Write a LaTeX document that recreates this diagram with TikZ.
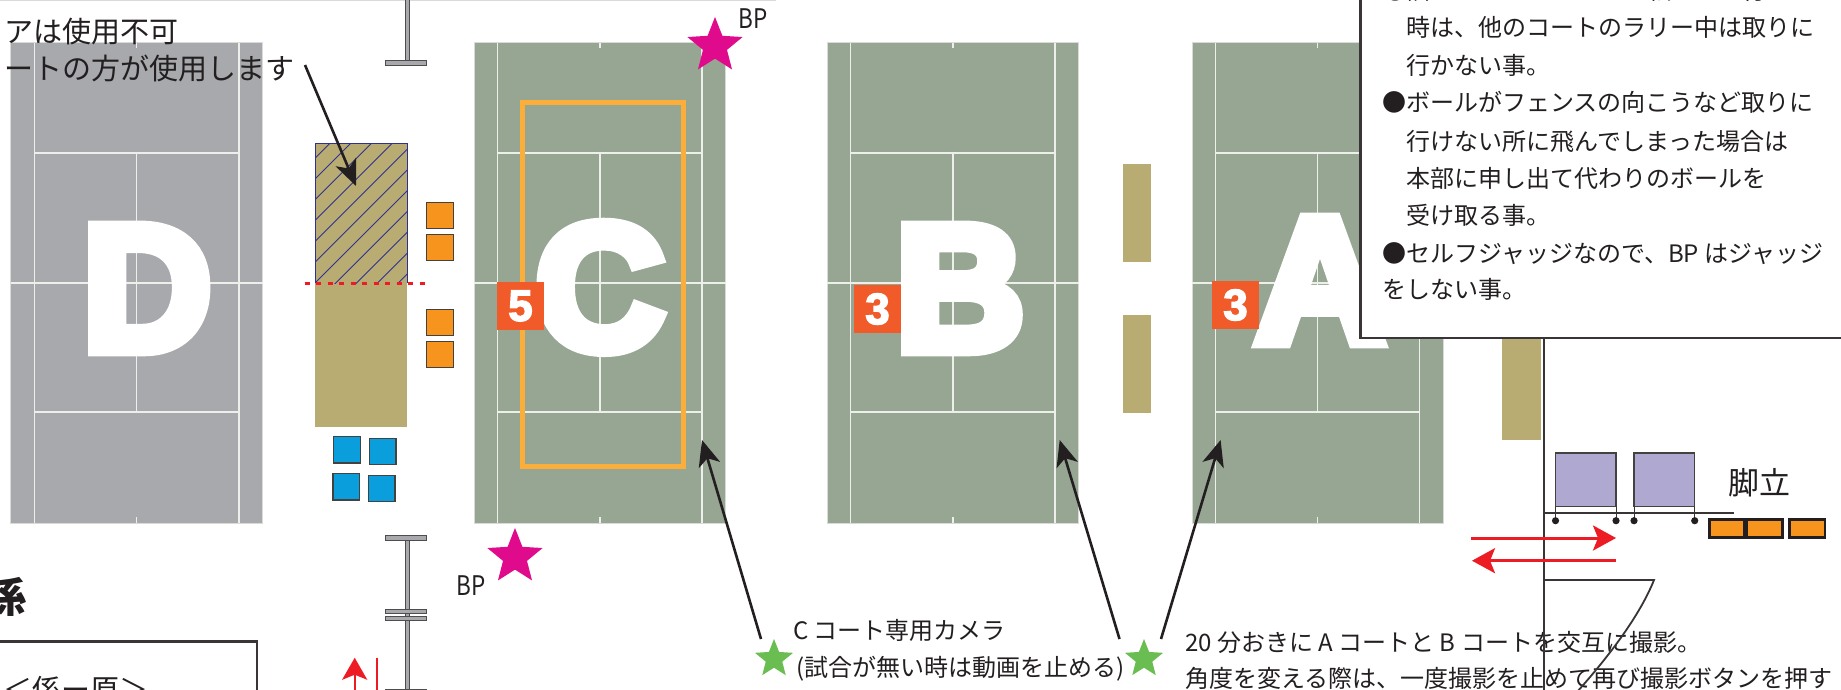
\documentclass[tikz,border=0pt]{standalone}
\usepackage{fontspec}
\usetikzlibrary{arrows.meta,shapes.geometric}
\setmainfont{Noto Sans CJK JP}
\newfontface\bigf{Liberation Sans Bold}[FakeBold=7]
\newfontface\digf{Liberation Sans Bold}[FakeBold=3]
\definecolor{ink}{HTML}{231F20}
\definecolor{courtgreen}{HTML}{96A693}
\definecolor{courtgray}{HTML}{A7A9AC}
\definecolor{courtline}{HTML}{EDEFEA}
\definecolor{courtedge}{HTML}{D8DBD6}
\definecolor{tan}{HTML}{B9AC72}
\definecolor{navy}{HTML}{2E3192}
\definecolor{orangebox}{HTML}{F7941D}
\definecolor{orangeframe}{HTML}{FBAE3A}
\definecolor{badgecol}{HTML}{F15A29}
\definecolor{bluebox}{HTML}{0A9FDC}
\definecolor{purplebox}{HTML}{AFA9D1}
\definecolor{starpink}{HTML}{E00A8C}
\definecolor{stargreen}{HTML}{6ABD50}
\definecolor{redarrow}{HTML}{ED1C24}
\definecolor{polegray}{HTML}{A7A9AC}
\newcommand{\tennis}[6]{%
  \fill[#6,draw=courtedge,line width=1pt] (#1,43) rectangle (#5,523);
  \draw[courtline,line width=1.2pt] (#2,43) -- (#2,523) (#4,43) -- (#4,523)
    (#2,153) -- (#4,153) (#2,412) -- (#4,412) (#1,283) -- (#5,283)
    (#3,153) -- (#3,412) (#3,43) -- (#3,48) (#3,517) -- (#3,523);
}
\tikzset{
  x=1pt,y=-1pt,
  jptext/.style={anchor=base west,inner sep=0pt,text=ink,font=\fontsize{24}{24}\selectfont},
  jpbig/.style={anchor=base west,inner sep=0pt,text=ink,font=\fontsize{29}{29}\selectfont},
  bpmark/.style={anchor=center,inner sep=0pt,text=ink,font=\fontsize{25}{25}\selectfont},
  letter/.style={anchor=base,inner sep=0pt,text=white,font=\fontsize{179}{179}\bigf},
  badge/.style={fill=badgecol,text=white,inner sep=0pt,minimum width=47pt,minimum height=48pt,font=\fontsize{44}{44}\digf},
  pinkstar/.style={star,star points=5,star point ratio=2.3,fill=starpink,inner sep=0pt,minimum size=58pt},
  greenstar/.style={star,star points=5,star point ratio=2.3,fill=stargreen,inner sep=0pt,minimum size=40pt},
  smallorange/.style={fill=orangebox,draw=ink!85,line width=1pt},
  bluesquare/.style={fill=bluebox,draw=ink!85,line width=1.2pt},
  purplesquare/.style={fill=purplebox,draw=ink!85,line width=1.2pt},
  poleshape/.style={fill=polegray,draw=ink!80,line width=0.9pt},
  note/.style={ink,line width=2.6pt,-{Stealth[length=26pt,width=22pt,inset=7pt]}},
  redline/.style={redarrow,line width=3pt,-{Stealth[length=23pt,width=25pt,inset=5pt]}},
  frameline/.style={ink!90,line width=2.2pt},
}
\begin{document}
\begin{tikzpicture}
\useasboundingbox (0,0) rectangle (1841,690);
\clip (0,0) rectangle (1841,690);
\fill[white] (0,0) rectangle (1841,690);
\draw[courtedge,line width=1.5pt] (0,0.5) -- (776,0.5);

% courts
\tennis{10.5}{34.5}{136.5}{239}{262.5}{courtgray}
\tennis{474}{497.5}{600}{702}{725.5}{courtgreen}
\tennis{827}{850.5}{953}{1055}{1078.5}{courtgreen}
\tennis{1192}{1215.5}{1317.5}{1419.5}{1443}{courtgreen}

% big letters
\node[letter] (letterD) at (147,350) {D};
\node[letter] (letterC) at (600,349) {C};
\node[letter] (letterB) at (960,350) {B};
\node[letter] (letterA) at (1320,342) {A};

% orange frame on court C
\draw[orangeframe,line width=5pt] (522.5,102.5) rectangle (683.5,466.5);

% badges
\node[badge] (badgeC) at (520.5,306) {5};
\node[badge] (badgeB) at (877.5,309) {3};
\node[badge] (badgeA) at (1235.5,305) {3};

% bench, hatched half
\fill[tan] (315,143.5) rectangle (407,426.5);
\begin{scope}
  \clip (315,143.5) rectangle (407,283);
  \foreach \d in {-104,-83.2,...,160}
    \draw[navy,line width=0.9pt] (315,283-\d) -- (615,-17-\d);
\end{scope}
\draw[navy,line width=1pt] (315,283) -- (315,143.5) -- (407,143.5) -- (407,283);
\draw[redarrow,line width=3pt,dash pattern=on 5pt off 6.5pt] (304.5,283) -- (427,283);

% side tan bars
\fill[tan] (1123,164) rectangle (1151,262);
\fill[tan] (1123,315) rectangle (1151,412.5);
\fill[tan] (1502,330) rectangle (1541,440);

% small orange squares
\draw[smallorange] (426,202) rectangle (453,228);
\draw[smallorange] (426,234) rectangle (453,260);
\draw[smallorange] (426,309) rectangle (453,335);
\draw[smallorange] (426,341) rectangle (453,367);

% blue squares
\draw[bluesquare] (333.5,436.5) rectangle (360.5,463);
\draw[bluesquare] (369.5,438.5) rectangle (396,464.5);
\draw[bluesquare] (333,473.5) rectangle (359.5,500);
\draw[bluesquare] (368.5,475.5) rectangle (395,501.5);

% poles
\draw[poleshape] (405,-2) rectangle (409,60);
\draw[poleshape] (385.5,60.5) rectangle (426,65);
\draw[poleshape] (405,540) rectangle (409,692);
\draw[poleshape] (385.5,535.5) rectangle (426,540);
\draw[poleshape] (385.5,609.5) rectangle (426,613.5);
\draw[poleshape] (385.5,616.5) rectangle (426,620.5);
\draw[poleshape] (385.5,689) rectangle (426,694);

% red marks bottom left
\coordinate (upstart) at (354.7,695);
\coordinate (uptip) at (354.7,657.7);
\draw[redarrow,line width=2.4pt,-{Stealth[length=22pt,width=25pt,inset=5pt]}] (upstart) -- (uptip);
\draw[redarrow,line width=2.4pt] (377,657.7) -- (377,695);

% left box
\draw[frameline] (-5,641.5) -- (257,641.5) -- (257,695);
\node[anchor=base,inner sep=0pt,text=ink,font=\fontsize{42}{42}\selectfont\bfseries] (kakari) at (6,612) {係};
\node[jpbig] (kakariname) at (3,700) {＜係ー原＞};

% stars
\node[pinkstar] (bpstarTop) at (715,46) {};
\node[pinkstar] (bpstarBottom) at (515,557) {};
\node[bpmark] (bpTop) at (753,19) {\scalebox{.9}[1.08]{BP}};
\node[bpmark] (bpBottom) at (471,586) {\scalebox{.9}[1.08]{BP}};
\node[greenstar] (camC) at (774,659) {};
\node[greenstar] (camAB) at (1144,659) {};

% labels
\node[jpbig] (unusableA) at (4,43) {アは使用不可};
\node[jpbig] (unusableB) at (4,80) {ートの方が使用します};
\node[jptext] (camCa) at (793,639) {C コート専用カメラ};
\node[jptext] (camCb) at (796,676) {(試合が無い時は動画を止める)};
\node[jptext] (camABa) at (1185,651) {20 分おきに A コートと B コートを交互に撮影。};
\node[jptext] (camABb) at (1185,687) {角度を変える際は、一度撮影を止めて再び撮影ボタンを押す};

% note arrows
\coordinate (noteS) at (305,65);
\coordinate (noteE) at (356,186);
\coordinate (cS) at (761,639);
\coordinate (cE) at (702,440);
\coordinate (bS) at (1119.5,639);
\coordinate (bE) at (1059.7,440);
\coordinate (aS) at (1161,639);
\coordinate (aE) at (1220.6,440);
\draw[note] (noteS) -- (noteE);
\draw[note] (cS) -- (cE);
\draw[note] (bS) -- (bE);
\draw[note] (aS) -- (aE);

% rules box (runs off the page)
\draw[frameline,fill=white] (1360.5,-5) rectangle (1850,338);
\node[jptext] (rule1) at (1383,0) {●隣のコートにボールが転がって行った};
\node[jptext] (rule2) at (1406,37) {時は、他のコートのラリー中は取りに};
\node[jptext] (rule3) at (1406,75) {行かない事。};
\node[jptext] (rule4) at (1382,112) {●ボールがフェンスの向こうなど取りに};
\node[jptext] (rule5) at (1406,150) {行けない所に飛んでしまった場合は};
\node[jptext] (rule6) at (1406,187) {本部に申し出て代わりのボールを};
\node[jptext] (rule7) at (1406,224) {受け取る事。};
\node[jptext] (rule8) at (1382,262) {●セルフジャッジなので、BP はジャッジ};
\node[jptext] (rule9) at (1382,298) {をしない事。};

% right side: fence line, stepladders
\draw[frameline] (1544,338) -- (1544,692);
\draw[ink!90,line width=1.8pt] (1544,580) -- (1654,580) .. controls (1640,615) and (1610,655) .. (1577,692);
\draw[ink!90,line width=1.8pt] (1544,512.7) -- (1734,512.7);
\foreach \xa/\xb in {1555.5/1616,1634/1694.7}{
  \draw[purplesquare] (\xa,453) rectangle (\xb,506.5);
  \draw[ink!90,line width=1pt] (\xa,506.5) -- (\xa,520.5) (\xb,506.5) -- (\xb,520.5);
  \fill[ink] (\xa,520.7) circle (3.6pt) (\xb,520.7) circle (3.6pt);
}
\node[anchor=center,inner sep=0pt,text=ink,font=\fontsize{31}{31}\selectfont] (ladder) at (1759,483) {脚立};
\draw[fill=orangebox,draw=ink,line width=2.2pt] (1709.5,519.5) rectangle (1744.5,537.5);
\draw[fill=orangebox,draw=ink,line width=2.2pt] (1747,519.5) rectangle (1782.5,537.5);
\draw[fill=orangebox,draw=ink,line width=2.2pt] (1789.5,519.5) rectangle (1825,537.5);

% red traffic arrows
\coordinate (rAs) at (1471,538);
\coordinate (rAe) at (1616,538);
\coordinate (rBs) at (1616,560.7);
\coordinate (rBe) at (1472,560.7);
\draw[redline] (rAs) -- (rAe);
\draw[redline] (rBs) -- (rBe);
\end{tikzpicture}
\end{document}
